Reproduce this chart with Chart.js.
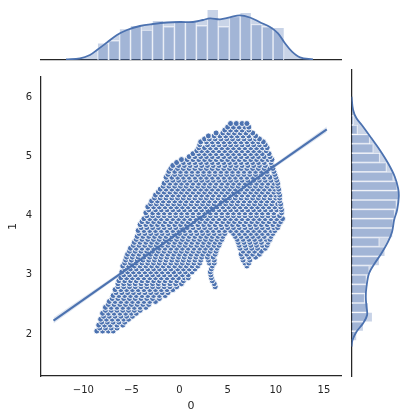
<!DOCTYPE html>
<html><head><meta charset="utf-8">
<script src="https://cdn.jsdelivr.net/npm/chart.js@4.4.0/dist/chart.umd.min.js"></script>
<style>
html,body{margin:0;padding:0;background:#fff;}
#wrap{position:relative;width:410px;height:420px;overflow:hidden;background:#fff;}
canvas{position:absolute;}
</style></head><body>
<div id="wrap">
<canvas id="main" style="left:0;top:62px;width:346px;height:358px;" width="346" height="358"></canvas>
<canvas id="top" style="left:0;top:0;width:342px;height:62px;" width="342" height="62"></canvas>
<canvas id="right" style="left:345px;top:62px;width:65px;height:358px;" width="65" height="358"></canvas>
</div>
<script>
// ---- data ----
const xTicks = [-10, -5, 0, 5, 10, 15];
const yTicks = [2, 3, 4, 5, 6];
const xLabel = '0';
const yLabel = '1';

// scatter cloud, one row per y value
const cloudY = [2.05,2.15,2.25,2.35,2.45,2.55,2.65,2.75,2.85,2.95,3.05,3.15,3.25,3.35,3.45,3.55,3.65,3.75,3.85,3.95,4.05,4.15,4.25,4.35,4.45,4.55,4.65,4.75,4.85,4.95,5.05,5.15,5.25,5.35,5.45,5.56];
const cloudX = [
 [-8.6,-8.0,-7.4,-6.9],
 [-8.4,-7.8,-7.2,-6.5,-5.9],
 [-8.2,-7.6,-7.0,-6.4,-5.8,-5.3],
 [-8.0,-7.4,-6.8,-6.2,-5.6,-5.0,-4.5],
 [-7.7,-7.1,-6.5,-5.9,-5.3,-4.7,-4.1,-3.5],
 [-7.3,-6.7,-6.1,-5.5,-4.9,-4.3,-3.7,-3.1,-2.5],
 [-6.9,-6.3,-5.7,-5.1,-4.5,-3.9,-3.3,-2.7,-2.1,-1.5],
 [-6.7,-6.1,-5.5,-4.9,-4.3,-3.7,-3.1,-2.5,-1.9,-1.3,-0.7],
 [-6.4,-5.8,-5.2,-4.6,-4.0,-3.4,-2.8,-2.2,-1.6,-1.0,-0.4,0.2,3.6],
 [-6.1,-5.5,-4.9,-4.3,-3.7,-3.1,-2.5,-1.9,-1.3,-0.7,-0.1,0.5,0.9,3.3],
 [-6.0,-5.4,-4.8,-4.2,-3.6,-3.0,-2.4,-1.8,-1.2,-0.6,0.0,0.6,1.3,3.2],
 [-5.9,-5.3,-4.7,-4.1,-3.5,-2.9,-2.3,-1.7,-1.1,-0.5,0.1,0.7,1.3,1.9,3.4,7.0],
 [-5.6,-5.0,-4.4,-3.8,-3.2,-2.6,-2.0,-1.4,-0.8,-0.2,0.4,1.0,1.6,2.2,3.0,3.6,6.6,7.3],
 [-5.4,-4.8,-4.2,-3.6,-3.0,-2.4,-1.8,-1.2,-0.6,0.0,0.6,1.2,1.8,2.4,3.0,3.7,6.4,7.0,7.6,8.3],
 [-5.1,-4.5,-3.9,-3.3,-2.7,-2.1,-1.5,-0.9,-0.3,0.3,0.9,1.5,2.1,2.7,3.3,3.9,6.3,6.9,7.5,8.1,8.9],
 [-4.7,-4.1,-3.5,-2.9,-2.3,-1.7,-1.1,-0.5,0.1,0.7,1.3,1.9,2.5,3.1,3.7,4.2,6.1,6.7,7.3,7.9,8.5,9.2],
 [-4.4,-3.8,-3.2,-2.6,-2.0,-1.4,-0.8,-0.2,0.4,1.0,1.6,2.2,2.8,3.4,4.0,4.5,5.8,6.4,7.0,7.6,8.2,8.8,9.5],
 [-4.3,-3.7,-3.1,-2.5,-1.9,-1.3,-0.7,-0.1,0.5,1.1,1.7,2.3,2.9,3.5,4.1,4.7,5.3,5.9,6.5,7.1,7.7,8.3,8.9,9.5,9.9],
 [-4.1,-3.5,-2.9,-2.3,-1.7,-1.1,-0.5,0.1,0.7,1.3,1.9,2.5,3.1,3.7,4.3,4.9,5.5,6.1,6.7,7.3,7.9,8.5,9.1,9.7,10.3],
 [-3.7,-3.1,-2.5,-1.9,-1.3,-0.7,-0.1,0.5,1.1,1.7,2.3,2.9,3.5,4.1,4.7,5.3,5.9,6.5,7.1,7.7,8.3,8.9,9.5,10.1,10.7],
 [-3.5,-2.8,-2.2,-1.6,-1.0,-0.4,0.2,0.8,1.4,2.0,2.6,3.2,3.8,4.4,5.0,5.6,6.2,6.8,7.4,8.0,8.6,9.2,9.8,10.6],
 [-3.3,-2.7,-2.1,-1.5,-0.9,-0.3,0.3,0.9,1.5,2.1,2.7,3.3,3.9,4.5,5.1,5.7,6.3,6.9,7.5,8.1,8.7,9.3,9.9,10.5],
 [-2.9,-2.3,-1.7,-1.1,-0.5,0.1,0.7,1.3,1.9,2.5,3.1,3.7,4.3,4.9,5.5,6.1,6.7,7.3,7.9,8.5,9.1,9.7,10.4],
 [-2.5,-1.9,-1.3,-0.7,-0.1,0.5,1.1,1.7,2.3,2.9,3.5,4.1,4.7,5.3,5.9,6.5,7.1,7.7,8.3,8.9,9.5,10.0,10.4],
 [-2.0,-1.4,-0.8,-0.2,0.4,1.0,1.6,2.2,2.8,3.4,4.0,4.6,5.2,5.8,6.4,7.0,7.6,8.2,8.8,9.4,9.9,10.3],
 [-1.6,-1.0,-0.4,0.2,0.8,1.4,2.0,2.6,3.2,3.8,4.4,5.0,5.6,6.2,6.8,7.4,8.0,8.6,9.2,9.8,10.2],
 [-1.4,-0.8,-0.2,0.4,1.0,1.6,2.2,2.8,3.4,4.0,4.6,5.2,5.8,6.4,7.0,7.6,8.2,8.8,9.4,10.0],
 [-1.1,-0.5,0.1,0.7,1.3,1.9,2.5,3.1,3.7,4.3,4.9,5.5,6.1,6.7,7.3,7.9,8.5,9.1,9.8],
 [-0.7,-0.1,0.5,1.1,1.7,2.3,2.9,3.5,4.1,4.7,5.3,5.9,6.5,7.1,7.7,8.3,8.9,9.6],
 [0.2,0.8,1.4,2.0,2.6,3.2,3.8,4.4,5.0,5.6,6.2,6.8,7.4,8.0,8.6,9.2,9.6],
 [1.4,2.0,2.6,3.2,3.8,4.4,5.0,5.6,6.2,6.8,7.4,8.0,8.6,9.3],
 [2.0,2.6,3.2,3.8,4.4,5.0,5.6,6.2,6.8,7.4,8.0,8.6,9.1],
 [2.2,2.8,3.4,4.0,4.6,5.2,5.8,6.4,7.0,7.6,8.2,8.7],
 [3.0,3.6,4.2,4.8,5.4,6.0,6.6,7.2,7.9],
 [4.7,5.3,5.9,6.5,7.2],
 [5.3,5.9,6.5,7.0]
];
// in-between rows of the cloud
const cloudMidY = [2.10,2.20,2.30,2.40,2.50,2.60,2.70,2.80,2.90,3.00,3.10,3.20,3.30,3.40,3.50,3.60,3.70,3.80,3.90,4.00,4.10,4.20,4.30,4.40,4.50,4.60,4.70,4.80,4.90,5.00,5.10,5.20,5.30,5.40,5.50];
const cloudMidX = [
 [-8.3,-7.7,-7.1,-6.5],
 [-8.1,-7.5,-6.9,-6.3,-5.7],
 [-7.9,-7.3,-6.7,-6.1,-5.5,-4.9],
 [-7.7,-7.1,-6.5,-5.9,-5.3,-4.7,-4.1],
 [-7.4,-6.8,-6.2,-5.6,-5.0,-4.4,-3.8,-3.2],
 [-7.0,-6.4,-5.8,-5.2,-4.6,-4.0,-3.4,-2.8,-2.1],
 [-6.6,-6.0,-5.4,-4.8,-4.2,-3.6,-3.0,-2.4,-1.8,-1.2],
 [-6.4,-5.8,-5.2,-4.6,-4.0,-3.4,-2.8,-2.2,-1.6,-1.0,-0.3,3.7],
 [-6.3,-5.7,-5.1,-4.5,-3.9,-3.3,-2.7,-2.1,-1.5,-0.9,-0.3,0.4,3.4],
 [-5.8,-5.2,-4.6,-4.0,-3.4,-2.8,-2.2,-1.6,-1.0,-0.4,0.3,0.9,3.25],
 [-5.7,-5.1,-4.5,-3.9,-3.3,-2.7,-2.1,-1.5,-0.9,-0.2,0.4,1.0,1.6,3.3],
 [-5.7,-5.1,-4.5,-3.9,-3.3,-2.7,-2.1,-1.5,-0.9,-0.3,0.3,0.9,1.5,2.1,3.1,3.6,6.8,7.2],
 [-5.5,-4.9,-4.3,-3.7,-3.1,-2.5,-1.9,-1.3,-0.7,-0.1,0.5,1.1,1.7,2.3,2.9,3.5,6.5,7.2,7.9],
 [-5.2,-4.6,-4.0,-3.4,-2.8,-2.2,-1.6,-1.0,-0.4,0.2,0.8,1.4,2.0,2.6,3.2,3.8,6.6,7.2,7.8,8.5],
 [-4.8,-4.2,-3.6,-3.0,-2.4,-1.8,-1.2,-0.6,0.0,0.6,1.2,1.8,2.4,3.0,3.6,4.1,6.2,6.8,7.4,8.0,8.6,9.1],
 [-4.5,-3.9,-3.3,-2.7,-2.1,-1.5,-0.9,-0.3,0.3,0.9,1.5,2.1,2.7,3.3,3.9,4.4,6.0,6.6,7.2,7.8,8.4,9.0,9.4],
 [-4.2,-3.6,-3.0,-2.4,-1.8,-1.2,-0.6,0.0,0.6,1.2,1.8,2.4,3.0,3.6,4.2,4.7,5.6,6.2,6.8,7.4,8.0,8.6,9.2,9.7],
 [-4.0,-3.4,-2.8,-2.2,-1.6,-1.0,-0.4,0.2,0.8,1.4,2.0,2.6,3.2,3.8,4.4,5.0,5.6,6.2,6.8,7.4,8.0,8.6,9.2,9.8,10.2],
 [-3.9,-3.3,-2.7,-2.1,-1.5,-0.9,-0.3,0.3,0.9,1.5,2.1,2.7,3.3,3.9,4.5,5.1,5.7,6.3,6.9,7.5,8.1,8.7,9.3,9.9,10.5],
 [-3.4,-2.8,-2.2,-1.6,-1.0,-0.4,0.2,0.8,1.4,2.0,2.6,3.2,3.8,4.4,5.0,5.6,6.2,6.8,7.4,8.0,8.6,9.2,9.8,10.4],
 [-3.2,-2.5,-1.9,-1.3,-0.7,-0.1,0.5,1.1,1.7,2.3,2.9,3.5,4.1,4.7,5.3,5.9,6.5,7.1,7.7,8.3,8.9,9.5,10.1,10.6],
 [-3.0,-2.4,-1.8,-1.2,-0.6,0.0,0.6,1.2,1.8,2.4,3.0,3.6,4.2,4.8,5.4,6.0,6.6,7.2,7.8,8.4,9.0,9.6,10.2,10.5],
 [-2.6,-2.0,-1.4,-0.8,-0.2,0.4,1.0,1.6,2.2,2.8,3.4,4.0,4.6,5.2,5.8,6.4,7.0,7.6,8.2,8.8,9.4,10.0,10.4],
 [-2.2,-1.6,-1.0,-0.4,0.2,0.8,1.4,2.0,2.6,3.2,3.8,4.4,5.0,5.6,6.2,6.8,7.4,8.0,8.6,9.2,9.8,10.3],
 [-1.7,-1.1,-0.5,0.1,0.7,1.3,1.9,2.5,3.1,3.7,4.3,4.9,5.5,6.1,6.7,7.3,7.9,8.5,9.1,9.7,10.2],
 [-1.3,-0.7,-0.1,0.5,1.1,1.7,2.3,2.9,3.5,4.1,4.7,5.3,5.9,6.5,7.1,7.7,8.3,8.9,9.5,10.1],
 [-1.2,-0.5,0.1,0.7,1.3,1.9,2.5,3.1,3.7,4.3,4.9,5.5,6.1,6.7,7.3,7.9,8.5,9.1,9.9],
 [-0.9,-0.2,0.4,1.0,1.6,2.2,2.8,3.4,4.0,4.6,5.2,5.8,6.4,7.0,7.6,8.2,8.8,9.4,9.7],
 [-0.3,0.4,1.0,1.6,2.2,2.8,3.4,4.0,4.6,5.2,5.8,6.4,7.0,7.6,8.2,8.8,9.5],
 [1.0,1.6,2.2,2.8,3.4,4.0,4.6,5.2,5.8,6.4,7.0,7.6,8.2,8.8,9.4],
 [1.8,2.3,2.9,3.5,4.1,4.7,5.3,5.9,6.5,7.1,7.7,8.3,9.0],
 [2.1,2.9,3.5,4.1,4.7,5.3,5.9,6.5,7.1,7.7,8.3,8.9],
 [2.6,3.1,3.7,4.3,4.9,5.5,6.1,6.7,7.3,7.9,8.3],
 [3.8,4.5,5.1,5.7,6.3,6.9,7.6],
 [5.0,5.6,6.2,6.8,7.2]
];

// regression line and its confidence band
const regX = [-13.1, 1.1, 15.3];
const regY = [2.227, 3.844, 5.461];
const bandHalf = [0.05, 0.01, 0.05];

// top marginal histogram (x) and kde
const topBinCenters = [-7.962,-6.826,-5.690,-4.554,-3.418,-2.282,-1.146,-0.010,1.126,2.262,3.398,4.534,5.670,6.806,7.942,9.078,10.214];
const topBinHeights = [0.0167,0.0193,0.0310,0.0343,0.0300,0.0393,0.0333,0.0390,0.0383,0.0343,0.0503,0.0333,0.0437,0.0473,0.0357,0.0333,0.0323];
const topKdeX = [-11.81,-10.36,-9.33,-8.60,-7.56,-6.53,-5.49,-4.15,-2.80,-1.35,0,1.35,2.38,3.11,4.15,5.18,6.22,7.25,8.29,9.33,10.16,10.88,11.61,12.44,13.78];
const topKdeY = [0.0005,0.0017,0.0050,0.0100,0.0175,0.0250,0.0300,0.0340,0.0360,0.0375,0.0380,0.0380,0.0400,0.0417,0.0407,0.0427,0.0447,0.0425,0.0378,0.0330,0.0267,0.0167,0.0083,0.0027,0.0005];

// right marginal histogram (y) and kde
const rightBinCenters = [1.953,2.108,2.263,2.418,2.573,2.728,2.883,3.037,3.192,3.347,3.502,3.657,3.812,3.967,4.122,4.276,4.431,4.586,4.741,4.896,5.051,5.206,5.360,5.515];
const rightBinWidths = [0.0050,0.0117,0.0207,0.0167,0.0133,0.0150,0.0150,0.0177,0.0277,0.0333,0.0277,0.0410,0.0417,0.0433,0.0450,0.0477,0.0457,0.0417,0.0350,0.0283,0.0217,0.0183,0.0060,0.0020];
const rightKdeY = [1.774,1.884,2.021,2.160,2.298,2.435,2.600,2.765,2.987,3.152,3.317,3.509,3.674,3.868,4.033,4.253,4.392,4.583,4.805,5.025,5.218,5.410,5.549,5.686,5.906];
const rightKdeX = [0,0.0010,0.0050,0.0116,0.0156,0.0150,0.0143,0.0150,0.0176,0.0233,0.0300,0.0366,0.0406,0.0426,0.0456,0.0473,0.0466,0.0433,0.0366,0.0283,0.0200,0.0116,0.0050,0.0016,0];

// ---- styling / ranges ----
const X_MIN = -14.40, X_MAX = 16.79;
const Y_MIN = 1.289, Y_MAX = 6.347;
const BLUE = '#4C72B0';
const TXT = '#262626';
Chart.defaults.font.family = 'DejaVu Sans';
Chart.defaults.color = TXT;
const fmt = v => (v < 0 ? '\u2212' + Math.abs(v) : String(v));
const noPlugins = {legend:{display:false}, tooltip:{enabled:false}};

// ---- main joint plot ----
const cloud = [];
cloudY.forEach((y, i) => {
  cloudX[i].forEach(x => cloud.push({x, y}));
  if (i < cloudMidY.length) cloudMidX[i].forEach(x => cloud.push({x, y: cloudMidY[i]}));
});
const pts = (xs, ys) => xs.map((x, i) => ({x, y: ys[i]}));

new Chart(document.getElementById('main'), {
  type: 'scatter',
  data: {datasets: [
    {data: cloud, order: 3, pointRadius: 3.0, pointBorderWidth: 0.9,
     pointBorderColor: '#ffffff', pointBackgroundColor: BLUE},
    {data: pts(regX, regY.map((v, i) => v - bandHalf[i])), order: 2, showLine: true,
     borderWidth: 0, pointRadius: 0, fill: false},
    {data: pts(regX, regY.map((v, i) => v + bandHalf[i])), order: 2, showLine: true,
     borderWidth: 0, pointRadius: 0, fill: '-1', backgroundColor: 'rgba(76,114,176,0.18)'},
    {data: pts(regX, regY), order: 0, showLine: true, borderColor: BLUE,
     borderWidth: 2.2, pointRadius: 0, fill: false}
  ]},
  options: {
    responsive: false, animation: false, events: [],
    layout: {padding: {top: 8, right: 4, left: 0, bottom: 0}},
    plugins: noPlugins,
    scales: {
      x: {type: 'linear', min: X_MIN, max: X_MAX,
          afterBuildTicks: a => { a.ticks = xTicks.map(v => ({value: v})); },
          afterFit: s => { s.height = 44; },
          grid: {display: false, drawTicks: false},
          border: {display: true, color: TXT, width: 1.25},
          ticks: {callback: fmt, font: {size: 10}, color: TXT, padding: 8, maxRotation: 0, autoSkip: false},
          title: {display: true, text: xLabel, font: {size: 11}, color: TXT, padding: {top: 0, bottom: 7.5}}},
      y: {type: 'linear', min: Y_MIN, max: Y_MAX,
          afterBuildTicks: a => { a.ticks = yTicks.map(v => ({value: v})); },
          afterFit: s => { s.width = 41; },
          grid: {display: false, drawTicks: false},
          border: {display: true, color: TXT, width: 1.25},
          ticks: {callback: fmt, font: {size: 10}, color: TXT, padding: 9, autoSkip: false},
          title: {display: true, text: yLabel, font: {size: 11}, color: TXT, padding: {top: 7, bottom: 0}}}
    }
  }
});

// ---- top marginal ----
new Chart(document.getElementById('top'), {
  type: 'bar',
  data: {datasets: [
    {type: 'line', data: pts(topKdeX, topKdeY), order: 3, fill: 'origin', tension: 0.35,
     borderWidth: 0, pointRadius: 0, backgroundColor: 'rgba(76,114,176,0.30)'},
    {data: pts(topBinCenters, topBinHeights), order: 2, barPercentage: 1, categoryPercentage: 1,
     backgroundColor: 'rgba(76,114,176,0.31)', borderColor: '#ffffff', borderWidth: 0.6},
    {type: 'line', data: pts(topKdeX, topKdeY), order: 1, fill: false, tension: 0.35,
     borderColor: BLUE, borderWidth: 1.8, pointRadius: 0}
  ]},
  options: {
    responsive: false, animation: false, events: [],
    layout: {padding: {left: 41, right: 0, top: 0, bottom: 2}},
    plugins: noPlugins,
    scales: {
      x: {type: 'linear', min: X_MIN, max: X_MAX, offset: false,
          afterFit: s => { s.height = 0; },
          grid: {display: false, drawTicks: false}, ticks: {display: false},
          border: {display: true, color: TXT, width: 1.25}},
      y: {type: 'linear', min: 0, max: 0.060, display: false}
    }
  }
});

// ---- right marginal ----
new Chart(document.getElementById('right'), {
  type: 'bar',
  data: {datasets: [
    {type: 'line', data: pts(rightKdeX, rightKdeY), order: 3, fill: 'origin', tension: 0.35,
     borderWidth: 0, pointRadius: 0, backgroundColor: 'rgba(76,114,176,0.30)'},
    {data: pts(rightBinWidths, rightBinCenters), order: 2, barPercentage: 1, categoryPercentage: 1,
     backgroundColor: 'rgba(76,114,176,0.31)', borderColor: '#ffffff', borderWidth: 0.6},
    {type: 'line', data: pts(rightKdeX, rightKdeY), order: 1, fill: false, tension: 0.35,
     borderColor: BLUE, borderWidth: 1.8, pointRadius: 0}
  ]},
  options: {
    indexAxis: 'y',
    responsive: false, animation: false, events: [],
    layout: {padding: {left: 6.5, right: 0, top: 8, bottom: 44}},
    plugins: noPlugins,
    scales: {
      y: {type: 'linear', min: Y_MIN, max: Y_MAX, offset: false,
          afterFit: s => { s.width = 0; },
          grid: {display: false, drawTicks: false}, ticks: {display: false},
          border: {display: true, color: TXT, width: 1.25}},
      x: {type: 'linear', min: 0, max: 0.0585, display: false}
    }
  }
});
</script>
</body></html>
